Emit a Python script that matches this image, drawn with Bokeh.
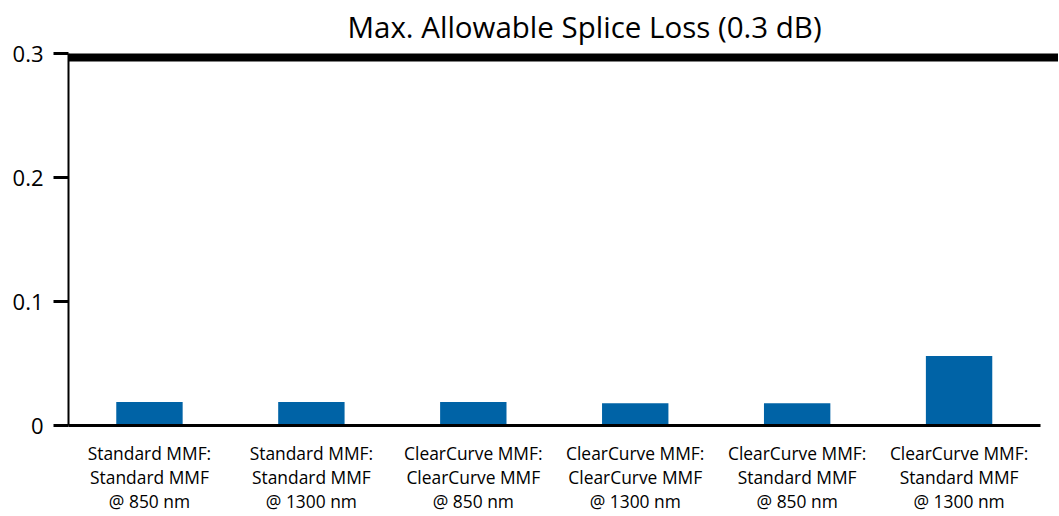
from bokeh.plotting import figure
from bokeh.models import Range1d, FixedTicker, NumeralTickFormatter
from bokeh.embed import file_html
from bokeh.resources import INLINE

categories = [
    "Standard MMF:\nStandard MMF\n@ 850 nm",
    "Standard MMF:\nStandard MMF\n@ 1300 nm",
    "ClearCurve MMF:\nClearCurve MMF\n@ 850 nm",
    "ClearCurve MMF:\nClearCurve MMF\n@ 1300 nm",
    "ClearCurve MMF:\nStandard MMF\n@ 850 nm",
    "ClearCurve MMF:\nStandard MMF\n@ 1300 nm",
]
splice_loss = [0.019, 0.019, 0.019, 0.018, 0.018, 0.056]
max_allowable = 0.3
y_ticks = [0, 0.1, 0.2, 0.3]
title_text = "Max. Allowable Splice Loss (0.3 dB)"

FONT = "Open Sans"
n = len(categories)
xs = [i + 0.5 for i in range(n)]

p = figure(width=1058, height=515, output_backend="svg", toolbar_location=None,
           x_range=Range1d(0, n * 1.019), y_range=Range1d(0, max_allowable),
           min_border_left=68, min_border_right=0, min_border_top=53, min_border_bottom=90)

p.title.text = title_text
p.title.align = "left"
p.title.offset = 279
p.title.standoff = 9
p.title.vertical_align = "top"
p.title.text_font = FONT
p.title.text_font_size = "29.5px"
p.title.text_font_style = "normal"
p.title.text_color = "#000000"

p.outline_line_color = None
p.background_fill_color = "white"
p.border_fill_color = "white"
p.grid.visible = False

p.vbar(x=xs, top=splice_loss, width=0.41, fill_color="#0063A6", line_color=None)
p.hspan(y=[max_allowable], line_width=16, line_color="black")

xa = p.xaxis[0]
xa.ticker = FixedTicker(ticks=xs)
xa.major_label_overrides = {x: c for x, c in zip(xs, categories)}
xa.bounds = (0, n)
xa.axis_line_width = 3
xa.axis_line_color = "black"
xa.major_tick_line_color = None
xa.minor_tick_line_color = None
xa.major_label_text_font = FONT
xa.major_label_text_font_size = "17.4px"
xa.major_label_text_line_height = 1.0
xa.major_label_text_color = "#000000"
xa.major_label_standoff = 9

ya = p.yaxis[0]
ya.ticker = FixedTicker(ticks=y_ticks)
ya.formatter = NumeralTickFormatter(format="0.[0]")
ya.axis_line_width = 2
ya.axis_line_color = "black"
ya.major_tick_line_width = 3
ya.major_tick_line_color = "black"
ya.major_tick_out = 15
ya.major_tick_in = 0
ya.minor_tick_line_color = None
ya.major_label_text_font = FONT
ya.major_label_text_font_size = "22px"
ya.major_label_text_color = "#000000"
ya.major_label_standoff = 10

open("out.html", "w").write(file_html(p, INLINE))
